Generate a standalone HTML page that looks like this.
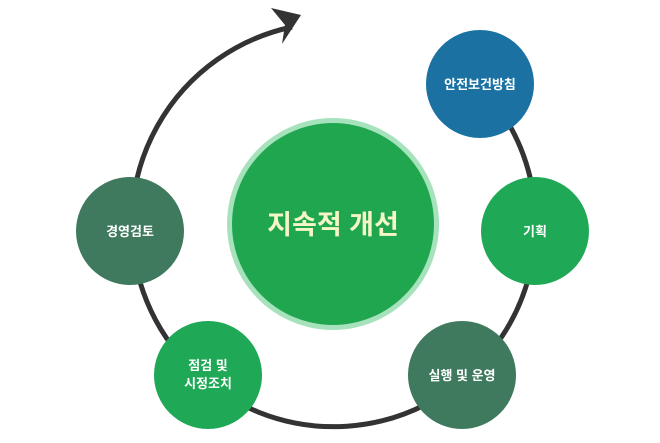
<!DOCTYPE html>
<html><head><meta charset="utf-8"><style>
html,body{margin:0;padding:0;background:#fff;}
svg{display:block;}
text{font-family:"Liberation Sans","Noto Sans CJK KR","NanumGothic",sans-serif;font-weight:bold;fill:#fff;text-anchor:middle;}
</style></head><body>
<svg width="660" height="443" viewBox="0 0 660 443">
<path d="M500 110 A202 202 0 1 1 292 27" fill="none" stroke="#333" stroke-width="5"/>
<polygon points="301,15 271,8 285,25 282,44" fill="#333"/>
<circle cx="333" cy="224" r="106" fill="#a6e3bd"/>
<circle cx="333" cy="224" r="101" fill="#21a650"/>
<text x="333" y="234" font-size="27" style="fill:#f4f6c6">지속적 개선</text>
<ellipse cx="480" cy="84" rx="54" ry="54" fill="#1b72a2"/>
<text x="480" y="89" font-size="13">안전보건방침</text>
<ellipse cx="535" cy="231" rx="54" ry="54" fill="#1fa956"/>
<text x="535" y="236" font-size="13">기획</text>
<ellipse cx="462" cy="375" rx="54" ry="54" fill="#3f7a5e"/>
<text x="462" y="380" font-size="13">실행 및 운영</text>
<ellipse cx="208" cy="375" rx="54" ry="54" fill="#1fa956"/>
<text x="208" y="370" font-size="13">점검 및</text>
<text x="208" y="388" font-size="13">시정조치</text>
<ellipse cx="130" cy="231" rx="54" ry="54" fill="#3f7a5e"/>
<text x="130" y="236" font-size="13">경영검토</text>
</svg>
</body></html>
